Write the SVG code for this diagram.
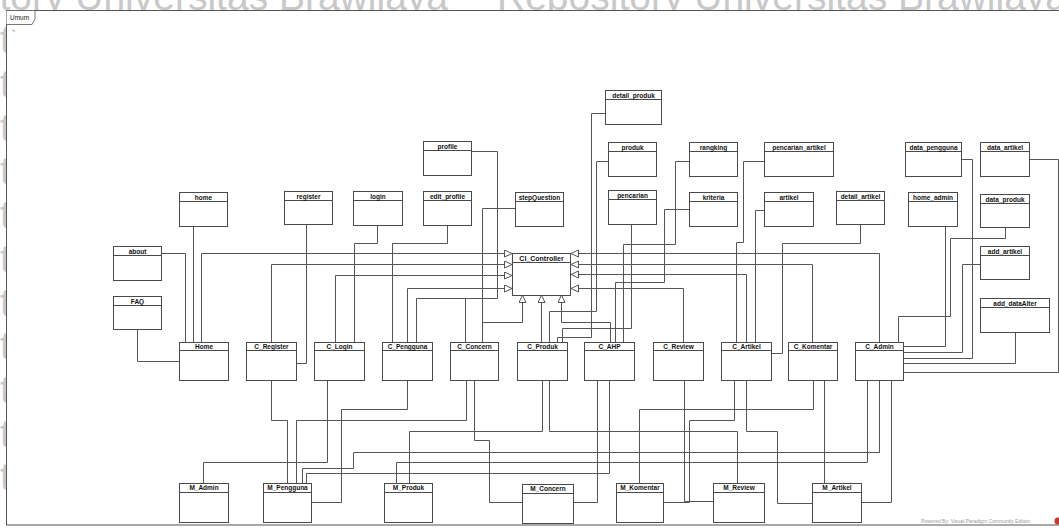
<svg xmlns="http://www.w3.org/2000/svg" width="1059" height="528" viewBox="0 0 1059 528">
<style>
.wm{font-family:"Liberation Sans",Arial,sans-serif;font-size:39px;fill:#c8c8c8}
.box{fill:#fff;stroke:#4a4a4a;stroke-width:1}
.hd{stroke:#4a4a4a;stroke-width:1}
.t{font-family:"Liberation Sans",Arial,sans-serif;font-size:6.5px;font-weight:bold;fill:#111;text-anchor:middle}
.c path{fill:none;stroke:#555;stroke-width:1}
.g{marker-end:url(#tri)}
</style>
<defs>
<marker id="tri" markerUnits="userSpaceOnUse" markerWidth="10" markerHeight="10" refX="8" refY="4" orient="auto">
<path d="M0.5,0.5 L8,4 L0.5,7.5 Z" fill="#fff" stroke="#555" stroke-width="1"/>
</marker>
</defs>
<rect width="1059" height="528" fill="#fff"/>
<g id="watermark">
<text class="wm" x="-122" y="9.5">Repository Universitas Brawijaya</text>
<text class="wm" x="497" y="9.5">Repository Universitas Brawijaya</text>
<text class="wm" x="0" y="53">t</text>
<text class="wm" x="0" y="97">t</text>
<text class="wm" x="0" y="141">t</text>
<text class="wm" x="0" y="184">t</text>
<text class="wm" x="0" y="228">t</text>
<text class="wm" x="0" y="272">t</text>
<text class="wm" x="0" y="316">t</text>
<text class="wm" x="0" y="359">t</text>
<text class="wm" x="0" y="403">t</text>
<text class="wm" x="0" y="447">t</text>
<text class="wm" x="0" y="490">t</text>
</g>
<g id="frame">
<rect x="6.5" y="10.5" width="1060" height="514.5" fill="#fff" stroke="#555" stroke-width="1"/>
<path d="M6.5,10.5 H35 V19 L32,24.5 H6.5" fill="#fff" stroke="#555" stroke-width="0.8"/>
<text x="10" y="20" font-family="'Liberation Sans',Arial,sans-serif" font-size="6.5" fill="#222">Umum</text>
<line x1="12.5" y1="29.8" x2="14.5" y2="31.5" stroke="#555" stroke-width="0.8"/>
</g>
<g id="connectors" class="c">
<path d="M193.5,226 V342"/>
<path d="M161,253.5 H185.5 V342"/>
<path d="M137.5,329 V361.5 H179"/>
<path class="g" d="M201.5,342 V253.5 H512"/>
<path d="M306.5,224 V363.5 H296"/>
<path class="g" d="M271.5,342 V264.5 H512"/>
<path d="M377.5,225 V243.5 H354.5 V342"/>
<path class="g" d="M335.5,342 V275.5 H512"/>
<path d="M447.5,225 V243.5 H392.5 V342"/>
<path d="M471,151.5 H497.5 V298.5 H416.5 V342"/>
<path class="g" d="M407.5,342 V288.5 H512"/>
<path d="M515,208.5 H482.5 V342"/>
<path d="M465.5,298.5 V342"/>
<path class="g" d="M482.5,342 V322.5 H522.5 V295"/>
<path class="g" d="M541.5,342 V295"/>
<path class="g" d="M610.5,342 V322.5 H561.5 V295"/>
<path d="M605,113.5 H591.5 V337.5 H557.5 V342"/>
<path d="M608,161.5 H596.5 V311.5 H549.5 V342"/>
<path d="M631.5,224 V328.5 H562.5 V342"/>
<path d="M689,161.5 H675.5 V244.5 H623.5 V342"/>
<path d="M689,209.5 H664.5 V282.5 H615.5 V342"/>
<path class="g" d="M683.5,342 V288.5 H571"/>
<path class="g" d="M746.5,342 V274.5 H571"/>
<path class="g" d="M812.5,342 V264.5 H571"/>
<path class="g" d="M879.5,342 V253.5 H571"/>
<path d="M764,210.5 H755.5 V342"/>
<path d="M764,161.5 H743.5 V242.5 H736.5 V342"/>
<path d="M860.5,224 V243.5 H782.5 V353.5 H771"/>
<path d="M945.5,226 V346.5 H903"/>
<path d="M1005.5,227 V238.5 H950.5 V316.5 H898.5 V342"/>
<path d="M980,264.5 H962.5 V352.5 H903"/>
<path d="M961,159.5 H972.5 V358.5 H903"/>
<path d="M1015.5,332 V363.5 H903"/>
<path d="M1029,159.5 H1058.5 V372.5 H903"/>
<path d="M271.5,380 V420.5 H287.5 V483"/>
<path d="M466.5,380 V420.5 H296.5 V483"/>
<path d="M327.5,380 V462.5 H203.5 V483"/>
<path d="M407.5,380 V409.5 H341.5 V502.5 H311"/>
<path d="M879.5,380 V452.5 H353.5 V468.5 H302.5 V483"/>
<path d="M609.5,380 V473.5 H306.5 V483"/>
<path d="M474.5,380 V440.5 H489.5 V502.5 H522"/>
<path d="M597.5,380 V502.5 H573"/>
<path d="M542.5,380 V431.5 H409.5 V483"/>
<path d="M549.5,380 V431.5 H737.5 V483"/>
<path d="M867.5,380 V462.5 H396.5 V483"/>
<path d="M813.5,380 V409.5 H639.5 V483"/>
<path d="M734.5,380 V420.5 H689.5 V502.5 H663"/>
<path d="M684.5,380 V501.5 H713"/>
<path d="M746.5,380 V431.5 H777.5 V503.5 H812"/>
<path d="M824.5,380 V483"/>
<path d="M891.5,380 V502.5 H861"/>
</g>
<g id="n-detail_produk"><rect class="box" x="605.5" y="90.5" width="56" height="34"/><line class="hd" x1="605.5" y1="99.5" x2="661.5" y2="99.5"/><text class="t" x="633.5" y="97.5">detail_produk</text></g>
<g id="n-profile"><rect class="box" x="423.5" y="141.5" width="48" height="34"/><line class="hd" x1="423.5" y1="150.5" x2="471.5" y2="150.5"/><text class="t" x="447.5" y="148.5">profile</text></g>
<g id="n-produk"><rect class="box" x="608.5" y="142.5" width="48" height="34"/><line class="hd" x1="608.5" y1="151.5" x2="656.5" y2="151.5"/><text class="t" x="632.5" y="149.5">produk</text></g>
<g id="n-rangking"><rect class="box" x="689.5" y="142.5" width="48" height="34"/><line class="hd" x1="689.5" y1="151.5" x2="737.5" y2="151.5"/><text class="t" x="713.5" y="149.5">rangking</text></g>
<g id="n-pencarian_artikel"><rect class="box" x="764.5" y="142.5" width="69" height="34"/><line class="hd" x1="764.5" y1="151.5" x2="833.5" y2="151.5"/><text class="t" x="799" y="149.5">pencarian_artikel</text></g>
<g id="n-data_pengguna"><rect class="box" x="905.5" y="142.5" width="56" height="34"/><line class="hd" x1="905.5" y1="151.5" x2="961.5" y2="151.5"/><text class="t" x="933.5" y="149.5">data_pengguna</text></g>
<g id="n-data_artikel"><rect class="box" x="980.5" y="142.5" width="49" height="34"/><line class="hd" x1="980.5" y1="151.5" x2="1029.5" y2="151.5"/><text class="t" x="1005" y="149.5">data_artikel</text></g>
<g id="n-home"><rect class="box" x="179.5" y="192.5" width="48" height="34"/><line class="hd" x1="179.5" y1="201.5" x2="227.5" y2="201.5"/><text class="t" x="203.5" y="199.5">home</text></g>
<g id="n-register"><rect class="box" x="284.5" y="191.5" width="48" height="33"/><line class="hd" x1="284.5" y1="200.5" x2="332.5" y2="200.5"/><text class="t" x="308.5" y="198.5">register</text></g>
<g id="n-login"><rect class="box" x="353.5" y="191.5" width="49" height="34"/><line class="hd" x1="353.5" y1="200.5" x2="402.5" y2="200.5"/><text class="t" x="378" y="198.5">login</text></g>
<g id="n-edit_profile"><rect class="box" x="423.5" y="191.5" width="48" height="34"/><line class="hd" x1="423.5" y1="200.5" x2="471.5" y2="200.5"/><text class="t" x="447.5" y="198.5">edit_profile</text></g>
<g id="n-stepQuestion"><rect class="box" x="515.5" y="192.5" width="48" height="34"/><line class="hd" x1="515.5" y1="201.5" x2="563.5" y2="201.5"/><text class="t" x="539.5" y="199.5">stepQuestion</text></g>
<g id="n-pencarian"><rect class="box" x="608.5" y="190.5" width="48" height="34"/><line class="hd" x1="608.5" y1="199.5" x2="656.5" y2="199.5"/><text class="t" x="632.5" y="197.5">pencarian</text></g>
<g id="n-kriteria"><rect class="box" x="689.5" y="192.5" width="48" height="34"/><line class="hd" x1="689.5" y1="201.5" x2="737.5" y2="201.5"/><text class="t" x="713.5" y="199.5">kriteria</text></g>
<g id="n-artikel"><rect class="box" x="764.5" y="192.5" width="49" height="34"/><line class="hd" x1="764.5" y1="201.5" x2="813.5" y2="201.5"/><text class="t" x="789" y="199.5">artikel</text></g>
<g id="n-detail_artikel"><rect class="box" x="836.5" y="191.5" width="48" height="33"/><line class="hd" x1="836.5" y1="200.5" x2="884.5" y2="200.5"/><text class="t" x="860.5" y="198.5">detail_artikel</text></g>
<g id="n-home_admin"><rect class="box" x="908.5" y="192.5" width="49" height="34"/><line class="hd" x1="908.5" y1="201.5" x2="957.5" y2="201.5"/><text class="t" x="933" y="199.5">home_admin</text></g>
<g id="n-data_produk"><rect class="box" x="980.5" y="194.5" width="49" height="33"/><line class="hd" x1="980.5" y1="203.5" x2="1029.5" y2="203.5"/><text class="t" x="1005" y="201.5">data_produk</text></g>
<g id="n-add_artikel"><rect class="box" x="980.5" y="246.5" width="49" height="33"/><line class="hd" x1="980.5" y1="255.5" x2="1029.5" y2="255.5"/><text class="t" x="1005" y="253.5">add_artikel</text></g>
<g id="n-add_dataAlter"><rect class="box" x="980.5" y="298.5" width="69" height="34"/><line class="hd" x1="980.5" y1="307.5" x2="1049.5" y2="307.5"/><text class="t" x="1015" y="305.5">add_dataAlter</text></g>
<g id="n-about"><rect class="box" x="113.5" y="246.5" width="48" height="34"/><line class="hd" x1="113.5" y1="255.5" x2="161.5" y2="255.5"/><text class="t" x="137.5" y="253.5">about</text></g>
<g id="n-FAQ"><rect class="box" x="113.5" y="296.5" width="48" height="33"/><line class="hd" x1="113.5" y1="305.5" x2="161.5" y2="305.5"/><text class="t" x="137.5" y="303.5">FAQ</text></g>
<g id="n-CI_Controller"><rect class="box" x="512.5" y="253.5" width="58" height="42"/><line class="hd" x1="512.5" y1="262.5" x2="570.5" y2="262.5"/><text class="t" x="541.5" y="260.5" style="font-size:7px">CI_Controller</text></g>
<g id="n-Home"><rect class="box" x="179.5" y="342.5" width="49" height="38"/><line class="hd" x1="179.5" y1="350.5" x2="228.5" y2="350.5"/><text class="t" x="204" y="348.5">Home</text></g>
<g id="n-C_Register"><rect class="box" x="246.5" y="342.5" width="50" height="38"/><line class="hd" x1="246.5" y1="350.5" x2="296.5" y2="350.5"/><text class="t" x="271.5" y="348.5">C_Register</text></g>
<g id="n-C_Login"><rect class="box" x="314.5" y="342.5" width="50" height="38"/><line class="hd" x1="314.5" y1="350.5" x2="364.5" y2="350.5"/><text class="t" x="339.5" y="348.5">C_Login</text></g>
<g id="n-C_Pengguna"><rect class="box" x="382.5" y="342.5" width="50" height="38"/><line class="hd" x1="382.5" y1="350.5" x2="432.5" y2="350.5"/><text class="t" x="407.5" y="348.5">C_Pengguna</text></g>
<g id="n-C_Concern"><rect class="box" x="450.5" y="342.5" width="48" height="38"/><line class="hd" x1="450.5" y1="350.5" x2="498.5" y2="350.5"/><text class="t" x="474.5" y="348.5">C_Concern</text></g>
<g id="n-C_Produk"><rect class="box" x="517.5" y="342.5" width="50" height="38"/><line class="hd" x1="517.5" y1="350.5" x2="567.5" y2="350.5"/><text class="t" x="542.5" y="348.5">C_Produk</text></g>
<g id="n-C_AHP"><rect class="box" x="584.5" y="342.5" width="50" height="38"/><line class="hd" x1="584.5" y1="350.5" x2="634.5" y2="350.5"/><text class="t" x="609.5" y="348.5">C_AHP</text></g>
<g id="n-C_Review"><rect class="box" x="653.5" y="342.5" width="50" height="38"/><line class="hd" x1="653.5" y1="350.5" x2="703.5" y2="350.5"/><text class="t" x="678.5" y="348.5">C_Review</text></g>
<g id="n-C_Artikel"><rect class="box" x="721.5" y="342.5" width="50" height="38"/><line class="hd" x1="721.5" y1="350.5" x2="771.5" y2="350.5"/><text class="t" x="746.5" y="348.5">C_Artikel</text></g>
<g id="n-C_Komentar"><rect class="box" x="788.5" y="342.5" width="49" height="38"/><line class="hd" x1="788.5" y1="350.5" x2="837.5" y2="350.5"/><text class="t" x="813" y="348.5">C_Komentar</text></g>
<g id="n-C_Admin"><rect class="box" x="855.5" y="342.5" width="48" height="38"/><line class="hd" x1="855.5" y1="350.5" x2="903.5" y2="350.5"/><text class="t" x="879.5" y="348.5">C_Admin</text></g>
<g id="n-M_Admin"><rect class="box" x="179.5" y="483.5" width="49" height="39"/><line class="hd" x1="179.5" y1="492.5" x2="228.5" y2="492.5"/><text class="t" x="204" y="490">M_Admin</text></g>
<g id="n-M_Pengguna"><rect class="box" x="263.5" y="483.5" width="48" height="39"/><line class="hd" x1="263.5" y1="492.5" x2="311.5" y2="492.5"/><text class="t" x="287.5" y="490">M_Pengguna</text></g>
<g id="n-M_Produk"><rect class="box" x="384.5" y="483.5" width="48" height="39"/><line class="hd" x1="384.5" y1="492.5" x2="432.5" y2="492.5"/><text class="t" x="408.5" y="490">M_Produk</text></g>
<g id="n-M_Concern"><rect class="box" x="522.5" y="484.5" width="51" height="39"/><line class="hd" x1="522.5" y1="493.5" x2="573.5" y2="493.5"/><text class="t" x="548" y="491">M_Concern</text></g>
<g id="n-M_Komentar"><rect class="box" x="616.5" y="483.5" width="47" height="39"/><line class="hd" x1="616.5" y1="492.5" x2="663.5" y2="492.5"/><text class="t" x="640" y="490">M_Komentar</text></g>
<g id="n-M_Review"><rect class="box" x="713.5" y="483.5" width="51" height="39"/><line class="hd" x1="713.5" y1="492.5" x2="764.5" y2="492.5"/><text class="t" x="739" y="490">M_Review</text></g>
<g id="n-M_Artikel"><rect class="box" x="812.5" y="483.5" width="49" height="39"/><line class="hd" x1="812.5" y1="492.5" x2="861.5" y2="492.5"/><text class="t" x="837" y="490">M_Artikel</text></g>
<g id="footer">
<text x="921" y="523" font-family="'Liberation Sans',Arial,sans-serif" font-size="5" fill="#9a9a9a">Powered By: Visual Paradigm Community Edition</text>
<circle cx="1058" cy="521" r="3.5" fill="#c0392b"/>
</g>
</svg>
